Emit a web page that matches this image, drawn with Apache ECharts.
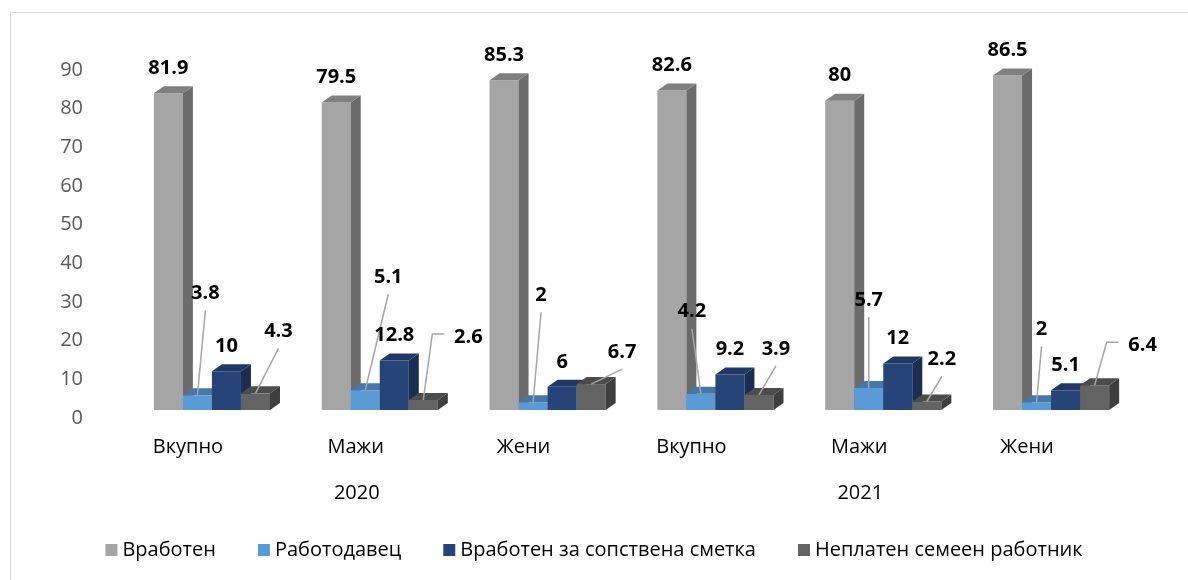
<!DOCTYPE html>
<html>
<head>
<meta charset="utf-8">
<script src="https://cdn.jsdelivr.net/npm/echarts@6/dist/echarts.min.js"></script>
<style>
  html, body { margin: 0; padding: 0; background: #fff; }
  #chart { width: 1188px; height: 580px; }
</style>
</head>
<body>
<div id="chart"></div>
<script>
// categories
const groups = ['Вкупно', 'Мажи', 'Жени', 'Вкупно', 'Мажи', 'Жени'];
const years = ['2020', '2021'];
const names = ['Вработен', 'Работодавец', 'Вработен за сопствена сметка', 'Неплатен семеен работник'];

// values (%)
const vraboten = [81.9, 79.5, 85.3, 82.6, 80, 86.5];
const rabotodavec = [3.8, 5.1, 2, 4.2, 5.7, 2];
const sopstvena = [10, 12.8, 6, 9.2, 12, 5.1];
const neplaten = [4.3, 2.6, 6.7, 3.9, 2.2, 6.4];

const allValues = [vraboten, rabotodavec, sopstvena, neplaten];

// look of the fake 3d bars
const shades = [
  {front: '#A5A5A5', top: '#808080', side: '#6B6B6B'},
  {front: '#5B9BD5', top: '#4677A6', side: '#41719C'},
  {front: '#264478', top: '#1F3864', side: '#1A2E52'},
  {front: '#636363', top: '#4C4C4C', side: '#3E3E3E'}
];
const DX = 10, DY = 7;
const FONT = '"Open Sans", "DejaVu Sans", sans-serif';

// where labels sit (pixel shift from top of bar front), null = just above the bar
// third item = elbow leader line
const labelShift = [
  [null, null, null, null, null, null],
  [[8, -102], [23, -113], [8, -107], [-9, -82], [0, -88], [5, -73]],
  [null, null, null, null, null, null],
  [[23, -62], [45, -63, true], [31, -32], [17, -46], [15, -42], [48, -40, true]]
];

const makeRender = (si) => (params, api) => {
  const idx = api.value(0);
  const val = api.value(1);
  const base = api.coord([idx, 0]);
  const top = api.coord([idx, val]);
  const band = api.size([1, 0])[0];
  const w = band * 0.173;
  const x = base[0] - 2 * w + si * w;
  const y0 = base[1], y1 = top[1];
  const c = shades[si];
  const children = [
    {type: 'rect', shape: {x: x, y: y1, width: w, height: y0 - y1}, style: {fill: c.front}},
    {type: 'polygon', shape: {points: [[x + w, y1], [x + w + DX, y1 - DY], [x + w + DX, y0 - DY], [x + w, y0]]}, style: {fill: c.side}},
    {type: 'polygon', shape: {points: [[x, y1], [x + DX, y1 - DY], [x + w + DX, y1 - DY], [x + w, y1]]}, style: {fill: c.top}}
  ];
  const cx = x + w / 2;
  const sh = labelShift[si][params.dataIndex];
  let lx = cx, ly = y1 - 25;
  if (sh) {
    lx = cx + sh[0];
    ly = y1 + sh[1];
    const pts = sh[2]
      ? [[lx - 24, ly - 3], [lx - 36, ly - 3], [cx, y1]]
      : [[lx, ly + 17], [cx, y1]];
    children.push({type: 'polyline', shape: {points: pts}, style: {stroke: '#A6A6A6', lineWidth: 1.5, fill: null}});
  }
  children.push({
    type: 'text', x: lx, y: ly,
    style: {text: String(val), align: 'center', verticalAlign: 'middle', font: 'bold 20px ' + FONT, fill: '#000'}
  });
  return {type: 'group', children: children};
};

const chart = echarts.init(document.getElementById('chart'));

const option = {
  animation: false,
  backgroundColor: '#fff',
  graphic: [{
    type: 'rect', silent: true,
    shape: {x: 10.5, y: 12.5, width: 1200, height: 600},
    style: {fill: 'none', stroke: '#D9D9D9', lineWidth: 1}
  }],
  legend: {
    data: names,
    top: 535,
    left: 'center',
    icon: 'rect',
    itemWidth: 12,
    itemHeight: 12,
    itemGap: 42,
    textStyle: {fontFamily: FONT, fontSize: 20, color: '#000'}
  },
  grid: {left: 128, right: 53, top: 62, bottom: 170},
  xAxis: [
    {
      type: 'category',
      data: groups,
      axisLine: {show: false},
      axisTick: {show: false},
      axisLabel: {margin: 27, padding: [0, 48, 0, 0], fontFamily: FONT, fontSize: 20, color: '#000'}
    },
    {
      type: 'category',
      data: years,
      position: 'bottom',
      axisLine: {show: false},
      axisTick: {show: false},
      axisLabel: {margin: 73, padding: [0, 46, 0, 0], fontFamily: FONT, fontSize: 20, color: '#000'}
    }
  ],
  yAxis: {
    type: 'value',
    min: 0,
    max: 90,
    interval: 10,
    axisLine: {show: false},
    axisTick: {show: false},
    splitLine: {show: false},
    axisLabel: {margin: 45, verticalAlign: 'top', lineHeight: 16, fontFamily: FONT, fontSize: 20, color: '#595959'}
  },
  series: allValues.map((vals, si) => ({
    name: names[si],
    type: 'custom',
    xAxisIndex: 0,
    itemStyle: {color: shades[si].front},
    renderItem: makeRender(si),
    encode: {x: 0, y: 1},
    data: vals.map((v, i) => [i, v])
  }))
};

chart.setOption(option);
</script>
</body>
</html>
